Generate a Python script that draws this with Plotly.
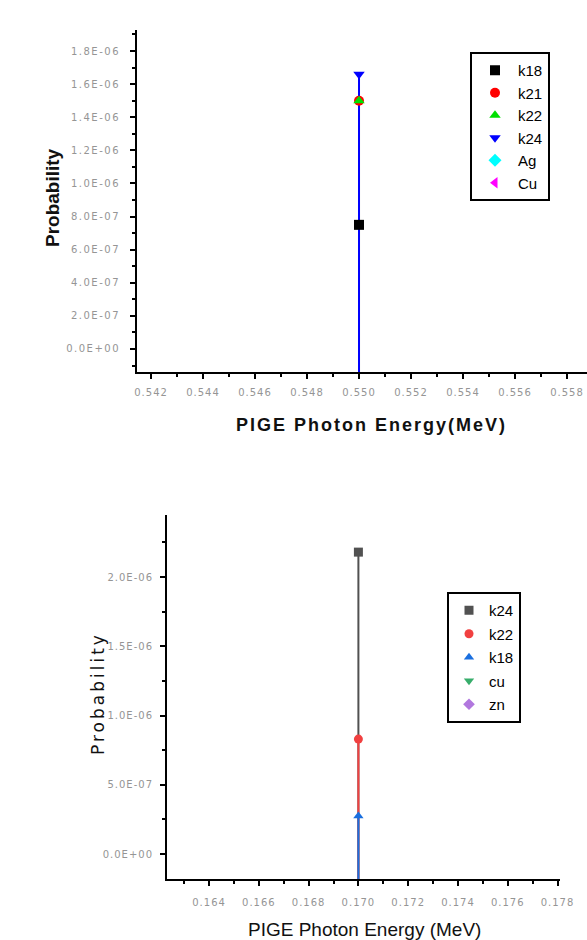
import plotly.graph_objects as go

# ---------------- data ----------------
# top panel (0.550 MeV line)
top_names = ["k18", "k21", "k22", "k24", "Ag", "Cu"]
top_energy = [0.550, 0.550, 0.550, 0.550, None, None]
top_prob = [7.5e-07, 1.5e-06, 1.5e-06, 1.66e-06, None, None]
top_colors = ["#000000", "#ff0000", "#00e000", "#0000ff", "#00ffff", "#ff00ff"]
top_symbols = ["square", "circle", "triangle-up", "triangle-down", "diamond", "triangle-left"]
top_yticks = [0, 2e-07, 4e-07, 6e-07, 8e-07, 1e-06, 1.2e-06, 1.4e-06, 1.6e-06, 1.8e-06]
top_xticks = [0.542, 0.544, 0.546, 0.548, 0.550, 0.552, 0.554, 0.556, 0.558]

# bottom panel (0.170 MeV line)
bot_names = ["k24", "k22", "k18", "cu", "zn"]
bot_energy = [0.170, 0.170, 0.170, None, None]
bot_prob = [2.18e-06, 8.3e-07, 2.74e-07, None, None]
bot_colors = ["#515151", "#f14040", "#1a6fdf", "#37ad6b", "#b177de"]
bot_symbols = ["square", "circle", "triangle-up", "triangle-down", "diamond"]
bot_yticks = [0, 5e-07, 1e-06, 1.5e-06, 2e-06]
bot_xticks = [0.164, 0.166, 0.168, 0.170, 0.172, 0.174, 0.176, 0.178]

top_yrange = [-1.39e-07, 1.927e-06]
top_xrange = [0.54146, 0.55877]
bot_yrange = [-1.8e-07, 2.448e-06]
bot_xrange = [0.16231, 0.17810]


def sci(v):
    s = "%.1E" % v
    mant, exp = s.split("E")
    sign = exp[0]
    return "%sE%s%02d" % (mant, sign, abs(int(exp)))


def spaced(t, px):
    return '<span style="letter-spacing:%spx">%s</span>' % (px, t)


def minor_vals(lo, hi, step):
    out = []
    k = int(lo // step) - 1
    while k * step <= hi + step:
        v = k * step
        if lo <= v <= hi:
            out.append(v)
        k += 1
    return out


# the page body margin is removed by a post script, so the figure fills the window
W, H = 587, 940


def px(xp):
    return xp / W


def py(yp):
    return 1 - yp / H


fig = go.Figure()

# ---------- top panel ----------
for n, xv, yv, c, s in zip(top_names, top_energy, top_prob, top_colors, top_symbols):
    if xv is not None:
        fig.add_trace(go.Scatter(x=[xv, xv], y=[top_yrange[0], yv], mode="lines",
                                 line=dict(color=c, width=2), showlegend=False,
                                 hoverinfo="skip", xaxis="x", yaxis="y"))
for n, xv, yv, c, s in zip(top_names, top_energy, top_prob, top_colors, top_symbols):
    fig.add_trace(go.Scatter(x=[xv], y=[yv], mode="markers", name=n,
                             marker=dict(color=c, symbol=s, size=10),
                             legend="legend", legendgroup="t" + n,
                             xaxis="x", yaxis="y"))

# ---------- bottom panel ----------
for n, xv, yv, c, s in zip(bot_names, bot_energy, bot_prob, bot_colors, bot_symbols):
    if xv is not None:
        fig.add_trace(go.Scatter(x=[xv, xv], y=[bot_yrange[0], yv], mode="lines",
                                 line=dict(color=c, width=2), showlegend=False,
                                 hoverinfo="skip", xaxis="x2", yaxis="y2"))
for n, xv, yv, c, s in zip(bot_names, bot_energy, bot_prob, bot_colors, bot_symbols):
    fig.add_trace(go.Scatter(x=[xv], y=[yv], mode="markers", name=n,
                             marker=dict(color=c, symbol=s, size=9),
                             legend="legend2", legendgroup="b" + n,
                             xaxis="x2", yaxis="y2"))

tickfont = dict(family="DejaVu Sans", size=10, color="#959595")
axcommon = dict(showline=True, linecolor="black", linewidth=2, ticks="outside",
                ticklen=5, tickwidth=2, tickcolor="black", showgrid=False,
                zeroline=False, tickfont=tickfont, automargin=False)
minor_common = dict(ticks="outside", ticklen=3, tickwidth=2, tickcolor="black")

fig.update_layout(
    template="none",
    width=W, height=H, margin=dict(l=0, r=0, t=0, b=0, pad=0, autoexpand=False),
    paper_bgcolor="white", plot_bgcolor="white",
    xaxis=dict(domain=[px(137), 1.0], range=top_xrange, anchor="y",
               tickmode="array", tickvals=top_xticks,
               ticktext=[spaced("%.3f" % v, 1) for v in top_xticks], ticklabelstandoff=5,
               minor=dict(tickmode="array",
                          tickvals=minor_vals(top_xrange[0], top_xrange[1], 0.001),
                          **minor_common),
               **axcommon),
    yaxis=dict(domain=[py(372), py(30)], range=top_yrange, anchor="x",
               tickmode="array", tickvals=top_yticks,
               ticktext=[spaced(sci(v), 1.5) for v in top_yticks], ticklabelstandoff=8,
               minor=dict(tickmode="array",
                          tickvals=minor_vals(top_yrange[0], top_yrange[1], 1e-07),
                          **minor_common),
               **axcommon),
    xaxis2=dict(domain=[px(167), px(560)], range=bot_xrange, anchor="y2",
                tickmode="array", tickvals=bot_xticks,
                ticktext=[spaced("%.3f" % v, 1) for v in bot_xticks], ticklabelstandoff=8,
                minor=dict(tickmode="array",
                           tickvals=minor_vals(bot_xrange[0], bot_xrange[1], 0.001),
                           **minor_common),
                **axcommon),
    yaxis2=dict(domain=[py(879), py(515)], range=bot_yrange, anchor="x2",
                tickmode="array", tickvals=bot_yticks,
                ticktext=[spaced(sci(v), 1) for v in bot_yticks], ticklabelstandoff=5,
                minor=dict(tickmode="array",
                           tickvals=minor_vals(bot_yrange[0], bot_yrange[1], 2.5e-07),
                           **minor_common),
                **axcommon),
    legend=dict(x=px(470), y=py(52), xanchor="left", yanchor="top",
                bgcolor="white", bordercolor="black", borderwidth=2,
                font=dict(family="Liberation Sans", size=15, color="#000"),
                traceorder="grouped", tracegroupgap=0, itemwidth=36),
    legend2=dict(x=px(447), y=py(592), xanchor="left", yanchor="top",
                 bgcolor="white", bordercolor="black", borderwidth=2,
                 font=dict(family="Liberation Sans", size=15, color="#000"),
                 traceorder="grouped", tracegroupgap=1, itemwidth=30),
    annotations=[
        dict(text="<b>Probability</b>", x=px(52), y=py(198), xref="paper", yref="paper",
             textangle=-90, showarrow=False, xanchor="center", yanchor="middle",
             font=dict(family="Liberation Sans", size=19, color="#111")),
        dict(text="<b>" + spaced("PIGE Photon Energy(MeV)", 2) + "</b>", x=px(371), y=py(425),
             xref="paper", yref="paper", showarrow=False, xanchor="center", yanchor="middle",
             font=dict(family="Liberation Sans", size=18, color="#111")),
        dict(text=spaced("Probability", 3), x=px(98),
             y=py(694), xref="paper", yref="paper",
             textangle=-90, showarrow=False, xanchor="center", yanchor="middle",
             font=dict(family="DejaVu Sans", size=17, color="#111")),
        dict(text="PIGE Photon Energy (MeV)", x=px(364), y=py(929),
             xref="paper", yref="paper", showarrow=False, xanchor="center", yanchor="middle",
             font=dict(family="Liberation Sans", size=19, color="#111")),
    ],
)

fig.write_html("out.html",
               config={"displayModeBar": False},
               post_script="document.body.style.margin='0';"
                           "document.body.style.overflow='hidden';")
